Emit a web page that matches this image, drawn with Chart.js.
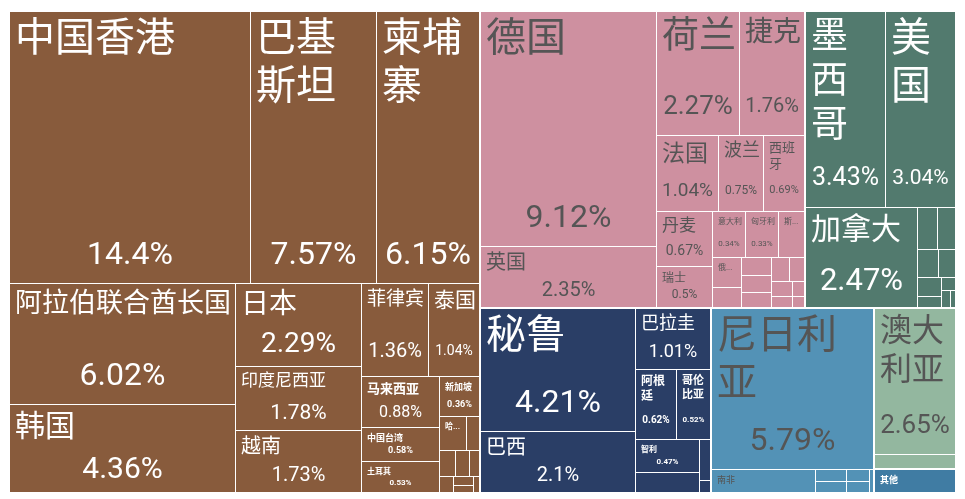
<!DOCTYPE html>
<html>
<head>
<meta charset="utf-8">
<script src="https://cdn.jsdelivr.net/npm/chart.js@4"></script>
<style>
  html, body { margin: 0; padding: 0; background: #fff; }
  #wrap { width: 965px; height: 499px; }
</style>
</head>
<body>
<div id="wrap"><canvas id="treemap"></canvas></div>
<script>
// 各大洲
const regions = ['亚洲', '欧洲', '北美洲', '南美洲', '非洲', '大洋洲', '其他'];

// 各国份额 (%)
const asiaNames = ['中国香港', '巴基斯坦', '柬埔寨', '阿拉伯联合酋长国', '韩国', '日本', '印度尼西亚', '越南', '菲律宾', '泰国', '马来西亚', '中国台湾', '土耳其', '新加坡', '哈萨克斯坦', '以色列', '沙特阿拉伯', '孟加拉国', '斯里兰卡', '缅甸', '卡塔尔', '伊拉克', '约旦'];
const asiaShares = [14.4, 7.57, 6.15, 6.02, 4.36, 2.29, 1.78, 1.73, 1.36, 1.04, 0.88, 0.58, 0.53, 0.36, 0.2, 0.1, 0.09, 0.08, 0.06, 0.05, 0.04, 0.03, 0.02];

const europeNames = ['德国', '英国', '荷兰', '捷克', '法国', '波兰', '西班牙', '丹麦', '瑞士', '意大利', '匈牙利', '斯洛伐克', '俄罗斯', '保加利亚', '比利时', '瑞典', '奥地利', '罗马尼亚', '葡萄牙', '芬兰', '希腊', '爱尔兰', '挪威'];
const europeShares = [9.12, 2.35, 2.27, 1.76, 1.04, 0.75, 0.69, 0.67, 0.5, 0.34, 0.33, 0.26, 0.2, 0.13, 0.12, 0.11, 0.1, 0.09, 0.08, 0.07, 0.05, 0.04, 0.03];

const northAmericaNames = ['墨西哥', '美国', '加拿大', '危地马拉', '洪都拉斯', '多米尼加', '巴拿马', '哥斯达黎加', '萨尔瓦多', '古巴', '牙买加', '尼加拉瓜'];
const northAmericaShares = [3.43, 3.04, 2.47, 0.18, 0.17, 0.13, 0.11, 0.1, 0.06, 0.04, 0.03, 0.02];

const southAmericaNames = ['秘鲁', '巴西', '巴拉圭', '阿根廷', '哥伦比亚', '智利', '厄瓜多尔', '乌拉圭', '玻利维亚'];
const southAmericaShares = [4.21, 2.1, 1.01, 0.62, 0.52, 0.47, 0.28, 0.1, 0.03];

const africaNames = ['尼日利亚', '南非', '埃及', '肯尼亚', '摩洛哥', '加纳', '坦桑尼亚'];
const africaShares = [5.79, 0.53, 0.08, 0.08, 0.06, 0.055, 0.02];

const oceaniaNames = ['澳大利亚', '新西兰'];
const oceaniaShares = [2.65, 0.25];

const otherNames = ['其他'];
const otherShares = [0.44];

const regionNames = [asiaNames, europeNames, northAmericaNames, southAmericaNames, africaNames, oceaniaNames, otherNames];
const regionShares = [asiaShares, europeShares, northAmericaShares, southAmericaShares, africaShares, oceaniaShares, otherShares];

// 颜色
const regionColors = ['#885b3c', '#ce90a0', '#527a6e', '#2a3e66', '#5392b6', '#93b79f', '#407ca3'];
const regionTextColors = ['#ffffff', '#555555', '#ffffff', '#ffffff', '#555555', '#555555', '#ffffff'];

const FONT = "Roboto, 'Noto Sans CJK SC', sans-serif";
const PHI = (1 + Math.sqrt(5)) / 2;

// squarified 布局 (同 d3 的算法)
function squarify(values, x0, y0, x1, y1) {
  const order = values.map((v, i) => i).sort((a, b) => values[b] - values[a]);
  const vals = order.map(i => values[i]);
  const out = [];
  let total = vals.reduce((a, b) => a + b, 0);
  let i0 = 0, i1 = 0;
  const n = vals.length;
  while (i0 < n) {
    const dx = x1 - x0, dy = y1 - y0;
    let sum = vals[i1++];
    let minV = sum, maxV = sum;
    const alpha = Math.max(dy / dx, dx / dy) / (total * PHI);
    let beta = sum * sum * alpha;
    let minRatio = Math.max(maxV / beta, beta / minV);
    for (; i1 < n; ++i1) {
      const v = vals[i1];
      sum += v;
      if (v < minV) minV = v;
      if (v > maxV) maxV = v;
      beta = sum * sum * alpha;
      const r = Math.max(maxV / beta, beta / minV);
      if (r > minRatio) { sum -= v; break; }
      minRatio = r;
    }
    if (dx < dy) {
      const yy = y0 + dy * sum / total;
      let xx = x0;
      for (let i = i0; i < i1; i++) {
        const w = dx * vals[i] / sum;
        out[order[i]] = { x0: xx, y0: y0, x1: xx + w, y1: yy };
        xx += w;
      }
      y0 = yy;
    } else {
      const xx = x0 + dx * sum / total;
      let yy = y0;
      for (let i = i0; i < i1; i++) {
        const h = dy * vals[i] / sum;
        out[order[i]] = { x0: x0, y0: yy, x1: xx, y1: yy + h };
        yy += h;
      }
      x0 = xx;
    }
    total -= sum;
    i0 = i1;
  }
  return out;
}

let boldSmall = true;
function fontStr(size) {
  return (boldSmall && size <= 13 ? 'bold ' : '') + size + 'px ' + FONT;
}

function tokens(text) {
  return /[\u4e00-\u9fff]/.test(text) ? Array.from(text) : [text];
}

function wrap(ctx, toks, w, joiner) {
  const lines = [];
  let cur = '';
  for (const t of toks) {
    if (ctx.measureText(t).width > w) return null;
    const next = cur ? cur + joiner + t : t;
    if (ctx.measureText(next).width <= w) cur = next;
    else { lines.push(cur); cur = t; }
  }
  if (cur) lines.push(cur);
  return lines;
}

// 字号自适应 (仿 d3plus textBox)
function fitText(ctx, text, w, h, fontMax, fontMin, allowEllipsis) {
  if (w < fontMin || h < fontMin * 1.2) return null;
  const toks = tokens(text);
  const joiner = toks.length > 1 ? '' : ' ';
  let fs = fontMax;
  ctx.font = fontStr(fs);
  const sizes = toks.map(t => ctx.measureText(t).width);
  const lh = fs * 1.2;
  const areaMod = 1.165 + w / h * 0.1;
  const textArea = sizes.reduce((a, b) => a + b, 0) * lh * areaMod;
  const maxW = Math.max(...sizes);
  if (maxW > w || textArea > w * h) {
    fs = Math.floor(fs * Math.min(Math.sqrt(w * h / textArea), w / maxW));
  }
  fs = Math.min(fs, Math.floor(h * 0.8));
  for (; fs >= fontMin; fs--) {
    ctx.font = fontStr(fs);
    const lines = wrap(ctx, toks, w, joiner);
    if (lines && lines.length * fs * 1.2 <= h) return { fs, lines };
  }
  if (!allowEllipsis) return null;
  fs = fontMin;
  ctx.font = fontStr(fs);
  const maxLines = Math.floor(h / (fs * 1.2));
  if (maxLines < 1) return null;
  const lines = [];
  let cur = '';
  const chars = Array.from(text);
  for (let i = 0; i < chars.length; i++) {
    const next = cur + chars[i];
    if (ctx.measureText(next).width <= w) { cur = next; continue; }
    if (lines.length + 1 < maxLines) { lines.push(cur); cur = chars[i]; continue; }
    break;
  }
  while (cur.length && ctx.measureText(cur + '...').width > w) cur = cur.slice(0, -1);
  if (!cur.length) return null;
  lines.push(cur + '...');
  return { fs, lines };
}

function fmtShare(v) {
  return String(+v.toPrecision(3)) + '%';
}

const treemapPlugin = {
  id: 'treemapCells',
  afterDatasetsDraw(chart) {
    const { ctx } = chart;
    const xs = chart.scales.x, ys = chart.scales.y;
    const left = xs.getPixelForValue(0), right = xs.getPixelForValue(1);
    const top = ys.getPixelForValue(1), bottom = ys.getPixelForValue(0);

    const regionTotals = regionShares.map(arr => arr.reduce((a, b) => a + b, 0));
    const regionRects = squarify(regionTotals, left, top, right, bottom);
    const pad = 5;

    ctx.save();
    regionRects.forEach((rr, r) => {
      const rx0 = Math.round(rr.x0), ry0 = Math.round(rr.y0);
      const rx1 = Math.round(rr.x1) - 1, ry1 = Math.round(rr.y1) - 1;
      const cells = squarify(regionShares[r], rx0, ry0, rx1, ry1);
      boldSmall = regionTextColors[r] === '#ffffff';
      cells.forEach((c, i) => {
        const x0 = Math.round(c.x0), y0 = Math.round(c.y0);
        const x1 = Math.round(c.x1) - 1, y1 = Math.round(c.y1) - 1;
        const w = x1 - x0, h = y1 - y0;
        if (w <= 0 || h <= 0) return;
        ctx.fillStyle = regionColors[r];
        ctx.fillRect(x0, y0, w, h);

        // 标签: 名称在左上, 份额在底部居中
        let sh = Math.min(50, (h - pad * 2) * 0.5);
        if (sh < 10) sh = 0;
        const nameH = sh ? h - sh - pad * 2 : h - pad * 2;
        ctx.fillStyle = regionTextColors[r];
        const nm = fitText(ctx, regionNames[r][i], w - pad - 2, nameH, 40, 8, true);
        if (!nm) return;
        ctx.font = fontStr(nm.fs);
        ctx.textAlign = 'left';
        ctx.textBaseline = 'middle';
        const lh = nm.fs * 1.2;
        nm.lines.forEach((ln, k) => {
          ctx.fillText(ln, x0 + pad, y0 + pad + lh * k + lh / 2);
        });
        if (sh) {
          const st = fitText(ctx, fmtShare(regionShares[r][i]), w - pad * 2, sh, 32, 8, false);
          if (st) {
            ctx.font = fontStr(st.fs);
            ctx.textAlign = 'center';
            ctx.textBaseline = 'middle';
            ctx.fillText(st.lines[0], x0 + w / 2, y1 - pad - sh / 2 + st.fs * 0.08);
          }
        }
      });
    });
    ctx.restore();
  }
};

new Chart(document.getElementById('treemap'), {
  type: 'scatter',
  data: { datasets: [] },
  options: {
    responsive: true,
    maintainAspectRatio: false,
    animation: false,
    layout: { padding: { left: 10, top: 12, right: 8, bottom: 5 } },
    scales: {
      x: { type: 'linear', min: 0, max: 1, display: false },
      y: { type: 'linear', min: 0, max: 1, display: false }
    },
    plugins: {
      legend: { display: false },
      tooltip: { enabled: false }
    }
  },
  plugins: [treemapPlugin]
});
</script>
</body>
</html>
